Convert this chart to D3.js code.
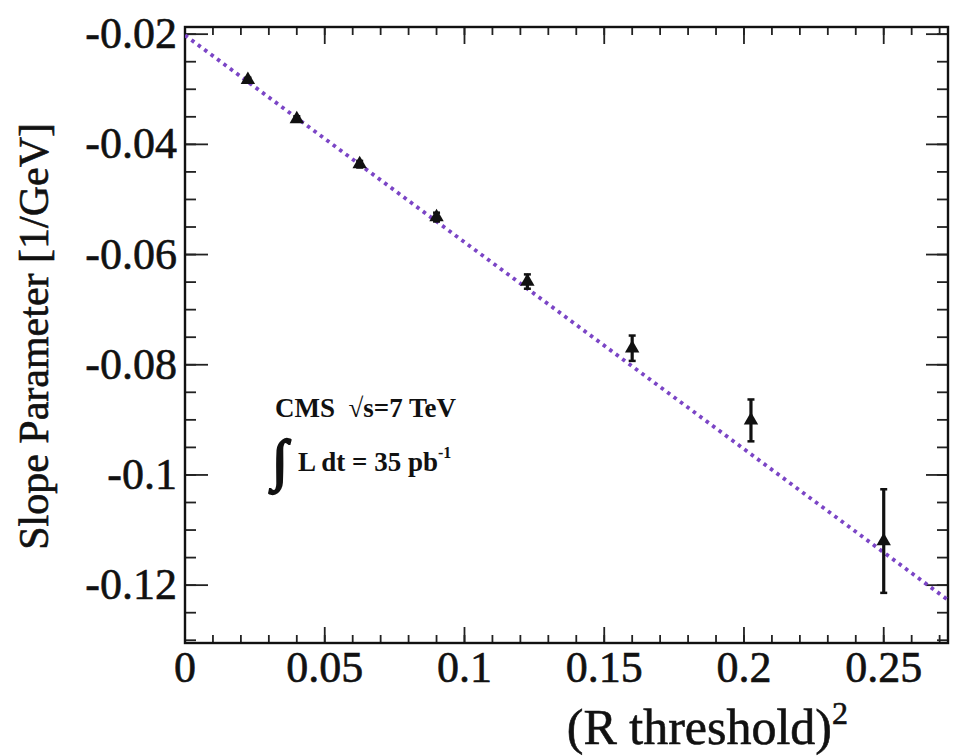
<!DOCTYPE html>
<html>
<head>
<meta charset="utf-8">
<script src="https://cdn.jsdelivr.net/npm/d3@7"></script>
<style>
  html, body { margin: 0; padding: 0; background: #fff; }
  svg { display: block; }
  text { font-family: "Liberation Serif", "Times New Roman", serif; fill: #111; }
  .heavy { stroke: #111; stroke-width: 0.6px; }
</style>
</head>
<body>
<svg id="chart" width="953" height="756"></svg>
<script>
// ---- data ----
const rThresholdSq = [0.0225, 0.04, 0.0625, 0.09, 0.1225, 0.16, 0.2025, 0.25];
const slopeParam   = [-0.0283, -0.0354, -0.0436, -0.0532, -0.0649, -0.0770, -0.0901, -0.1120];
const slopeErr     = [0.0004, 0.0005, 0.0006, 0.0008, 0.0013, 0.0023, 0.0038, 0.0094];
const fitX = [0, 0.273];
const fitY = [-0.0202, -0.1227];
const xTickValues = [0, 0.05, 0.1, 0.15, 0.2, 0.25];
const xTickLabels = ["0", "0.05", "0.1", "0.15", "0.2", "0.25"];
const yTickValues = [-0.12, -0.1, -0.08, -0.06, -0.04, -0.02];
const yTickLabels = ["-0.12", "-0.1", "-0.08", "-0.06", "-0.04", "-0.02"];
const xMinorTicks = d3.range(0, 28).map(i => i / 100);
const yMinorTicks = d3.range(-26, -3).map(i => i * 0.005);

// ---- layout ----
const L = 185, R = 948, T = 27, B = 643;
const svg = d3.select("#chart");
const x = d3.scaleLinear().domain([0, 0.273]).range([L, R]);
const y = d3.scaleLinear().domain([-0.1305, -0.0187]).range([B, T]);

const tickColor = "#222";
const g = svg.append("g");
const yMin = yMinorTicks.filter(v => v >= -0.1305 && v <= -0.0187);
g.selectAll(".ylmin").data(yMin).join("line")
  .attr("x1", L).attr("x2", L + 11).attr("y1", d => y(d)).attr("y2", d => y(d))
  .attr("stroke", tickColor).attr("stroke-width", 1.8);
g.selectAll(".yrmin").data(yMin).join("line")
  .attr("x1", R).attr("x2", R - 11).attr("y1", d => y(d)).attr("y2", d => y(d))
  .attr("stroke", tickColor).attr("stroke-width", 1.8);
g.selectAll(".ylmaj").data(yTickValues).join("line")
  .attr("x1", L).attr("x2", L + 23).attr("y1", d => y(d)).attr("y2", d => y(d))
  .attr("stroke", tickColor).attr("stroke-width", 1.8);
g.selectAll(".yrmaj").data(yTickValues).join("line")
  .attr("x1", R).attr("x2", R - 22).attr("y1", d => y(d)).attr("y2", d => y(d))
  .attr("stroke", tickColor).attr("stroke-width", 1.8);
g.selectAll(".xbmin").data(xMinorTicks).join("line")
  .attr("x1", d => x(d)).attr("x2", d => x(d)).attr("y1", B).attr("y2", B - 8)
  .attr("stroke", tickColor).attr("stroke-width", 1.8);
g.selectAll(".xtmin").data(xMinorTicks).join("line")
  .attr("x1", d => x(d)).attr("x2", d => x(d)).attr("y1", T).attr("y2", T + 8)
  .attr("stroke", tickColor).attr("stroke-width", 1.8);
g.selectAll(".xbmaj").data(xTickValues).join("line")
  .attr("x1", d => x(d)).attr("x2", d => x(d)).attr("y1", B).attr("y2", B - 16)
  .attr("stroke", tickColor).attr("stroke-width", 1.8);
g.selectAll(".xtmaj").data(xTickValues).join("line")
  .attr("x1", d => x(d)).attr("x2", d => x(d)).attr("y1", T).attr("y2", T + 17)
  .attr("stroke", tickColor).attr("stroke-width", 1.8);

// frame
svg.append("rect").attr("x", L).attr("y", T).attr("width", R - L).attr("height", B - T)
  .attr("fill", "none").attr("stroke", "#111").attr("stroke-width", 2.4);

// tick labels
svg.selectAll(".xl").data(xTickValues).join("text").attr("class", "heavy")
  .attr("x", d => x(d)).attr("y", 682).attr("text-anchor", "middle")
  .attr("font-size", 44).text((d, i) => xTickLabels[i]);
svg.selectAll(".yl").data(yTickValues).join("text").attr("class", "heavy")
  .attr("x", 177).attr("y", d => y(d) + 14).attr("text-anchor", "end")
  .attr("font-size", 44).text((d, i) => yTickLabels[i]);

// axis titles
const xt = svg.append("text").attr("class", "heavy").attr("x", 848).attr("y", 744)
  .attr("text-anchor", "end").attr("font-size", 50);
xt.append("tspan").text("(R threshold)");
xt.append("tspan").attr("dy", -20).attr("font-size", 32).text("2");

svg.append("text").attr("class", "heavy").attr("transform", "translate(48,123) rotate(-90)")
  .attr("text-anchor", "end").attr("font-size", 42).text("Slope Parameter [1/GeV]");

// fit line
svg.append("clipPath").attr("id", "clip").append("rect")
  .attr("x", L).attr("y", T).attr("width", R - L).attr("height", B - T);
svg.append("path").datum(fitX.map((v, i) => [v, fitY[i]]))
  .attr("clip-path", "url(#clip)")
  .attr("d", d3.line().x(d => x(d[0])).y(d => y(d[1])))
  .attr("fill", "none").attr("stroke", "#7b45c6").attr("stroke-width", 3.8)
  .attr("stroke-dasharray", "3.5,4.5");

// error bars
const pts = rThresholdSq.map((v, i) => ({ x: v, y: slopeParam[i], e: slopeErr[i] }));
svg.selectAll(".eb").data(pts).join("line")
  .attr("x1", d => x(d.x)).attr("x2", d => x(d.x))
  .attr("y1", d => y(d.y + d.e)).attr("y2", d => y(d.y - d.e))
  .attr("stroke", "#111").attr("stroke-width", 3.2);
svg.selectAll(".ebt").data(pts).join("line")
  .attr("x1", d => x(d.x) - 3.5).attr("x2", d => x(d.x) + 3.5)
  .attr("y1", d => y(d.y + d.e)).attr("y2", d => y(d.y + d.e))
  .attr("stroke", "#111").attr("stroke-width", 2.5);
svg.selectAll(".ebb").data(pts).join("line")
  .attr("x1", d => x(d.x) - 3.5).attr("x2", d => x(d.x) + 3.5)
  .attr("y1", d => y(d.y - d.e)).attr("y2", d => y(d.y - d.e))
  .attr("stroke", "#111").attr("stroke-width", 2.5);
svg.selectAll(".mk").data(pts).join("path")
  .attr("transform", d => `translate(${x(d.x)},${y(d.y)})`)
  .attr("d", d3.symbol().type(d3.symbolTriangle).size(90))
  .attr("fill", "#111");

// annotation
svg.append("text").attr("x", 275).attr("y", 417).attr("font-size", 27).attr("font-weight", "bold")
  .attr("xml:space", "preserve").text("CMS  \u221As=7 TeV");
svg.append("text").attr("x", 272).attr("y", 479).attr("font-size", 56).attr("font-weight", "bold")
  .attr("stroke", "#111").attr("stroke-width", 2.4).text("\u222B");
const lt = svg.append("text").attr("x", 298).attr("y", 471).attr("font-size", 27).attr("font-weight", "bold");
lt.append("tspan").text("L dt = 35 pb");
lt.append("tspan").attr("dy", -13).attr("font-size", 16).text("-1");
</script>
</body>
</html>
